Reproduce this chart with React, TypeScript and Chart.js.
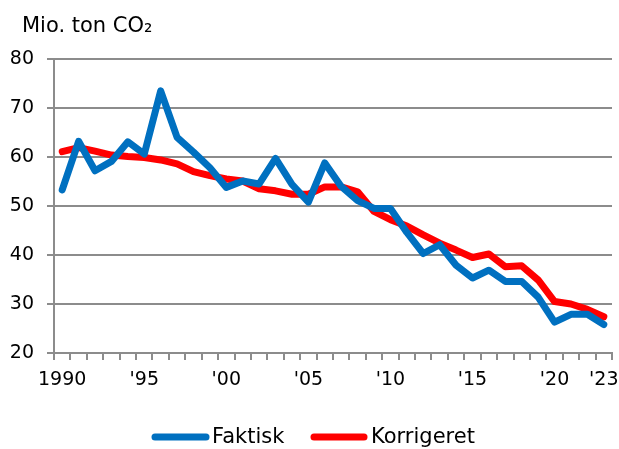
import React, { useEffect, useRef } from "react";
import { Chart, registerables } from "chart.js";

Chart.register(...registerables);

const years: string[] = [];
for (let y = 1990; y <= 2023; y++) years.push(String(y));

const tickLabels: Record<string, string> = {
  "1990": "1990",
  "1995": "'95",
  "2000": "'00",
  "2005": "'05",
  "2010": "'10",
  "2015": "'15",
  "2020": "'20",
  "2023": "'23",
};

const faktisk = [
  53.3, 63.2, 57.2, 59.1, 63.1, 60.6, 73.5, 64.0, 61.0, 57.8,
  53.8, 55.1, 54.5, 59.7, 54.4, 50.8, 58.8, 54.0, 51.1, 49.5,
  49.5, 44.6, 40.3, 42.1, 37.9, 35.3, 36.9, 34.6, 34.6, 31.4,
  26.3, 27.9, 27.9, 25.8,
];

const korrigeret = [
  61.1, 61.9, 61.2, 60.4, 60.1, 59.9, 59.4, 58.6, 57.0, 56.2,
  55.5, 55.1, 53.5, 53.1, 52.4, 52.4, 53.9, 53.9, 52.9, 48.9,
  47.2, 45.9, 44.1, 42.4, 41.0, 39.5, 40.2, 37.6, 37.8, 34.9,
  30.5, 30.0, 28.9, 27.4,
];

const seriesNames = ["Faktisk", "Korrigeret"];
const seriesColors = ["#0070C0", "#FF0000"];
const yTitle = "Mio. ton CO\u2082";

const FONT = "'DejaVu Sans', Verdana, sans-serif";
const GRID = "#8C8C8C";

export default function App() {
  const ref = useRef<HTMLCanvasElement>(null);
  useEffect(() => {
    if (!ref.current) return;
    const overlay = {
      id: "overlay",
      afterDraw(chart: any) {
        const ctx = chart.ctx;
        ctx.save();
        ctx.fillStyle = "#000";
        ctx.font = `21px ${FONT}`;
        ctx.textBaseline = "alphabetic";
        ctx.textAlign = "left";
        ctx.fillText(yTitle, 22, 32);
        // legend
        const items = [
          { x1: 155, x2: 206, tx: 212 },
          { x1: 314, x2: 364, tx: 371 },
        ];
        const ly = 437;
        ctx.font = `21px ${FONT}`;
        ctx.textBaseline = "middle";
        items.forEach((it, i) => {
          ctx.strokeStyle = seriesColors[i];
          ctx.lineWidth = 7;
          ctx.lineCap = "round";
          ctx.beginPath();
          ctx.moveTo(it.x1, ly);
          ctx.lineTo(it.x2, ly);
          ctx.stroke();
          ctx.fillText(seriesNames[i], it.tx, ly + 1);
        });
        ctx.restore();
      },
    };
    const chart = new Chart(ref.current, {
      type: "line",
      data: {
        labels: years,
        datasets: [
          {
            label: seriesNames[0],
            data: faktisk,
            borderColor: seriesColors[0],
            backgroundColor: seriesColors[0],
            borderWidth: 7,
            pointRadius: 0,
            tension: 0,
            borderJoinStyle: "round",
            borderCapStyle: "round",
          },
          {
            label: seriesNames[1],
            data: korrigeret,
            borderColor: seriesColors[1],
            backgroundColor: seriesColors[1],
            borderWidth: 7,
            pointRadius: 0,
            tension: 0,
            borderJoinStyle: "round",
            borderCapStyle: "round",
          },
        ],
      },
      options: {
        animation: false,
        responsive: false,
        maintainAspectRatio: false,
        layout: { padding: { top: 59, right: 7, bottom: 0, left: 0 } },
        plugins: {
          legend: { display: false },
          tooltip: { enabled: false },
          title: { display: false },
        },
        scales: {
          x: {
            type: "category",
            offset: true,
            grid: {
              display: true,
              drawOnChartArea: false,
              drawTicks: true,
              tickLength: 7,
              color: GRID,
              lineWidth: 2,
              offset: true,
            },
            border: { display: true, color: GRID, width: 2 },
            ticks: {
              autoSkip: false,
              maxRotation: 0,
              padding: 9,
              color: "#000",
              font: { family: FONT, size: 19 },
              callback: (_v: any, i: number) => tickLabels[years[i]] ?? "",
            },
            afterFit: (s: any) => {
              s.height = 96;
              s.paddingLeft = 0;
              s.paddingRight = 0;
            },
          },
          y: {
            min: 20,
            max: 80,
            grid: {
              color: GRID,
              lineWidth: 2,
              drawTicks: true,
              tickLength: 7,
            },
            border: { display: true, color: GRID, width: 2 },
            ticks: {
              stepSize: 10,
              padding: 13,
              color: "#000",
              font: { family: FONT, size: 19 },
            },
            afterFit: (s: any) => {
              s.width = 54;
              s.paddingTop = 0;
              s.paddingBottom = 0;
            },
          },
        },
      },
      plugins: [overlay],
    });
    return () => chart.destroy();
  }, []);
  return (
    <div style={{ position: "fixed", left: 0, top: 0, width: 619, height: 449, background: "#fff" }}>
      <canvas ref={ref} width={619} height={449} style={{ display: "block", width: 619, height: 449 }} />
    </div>
  );
}
